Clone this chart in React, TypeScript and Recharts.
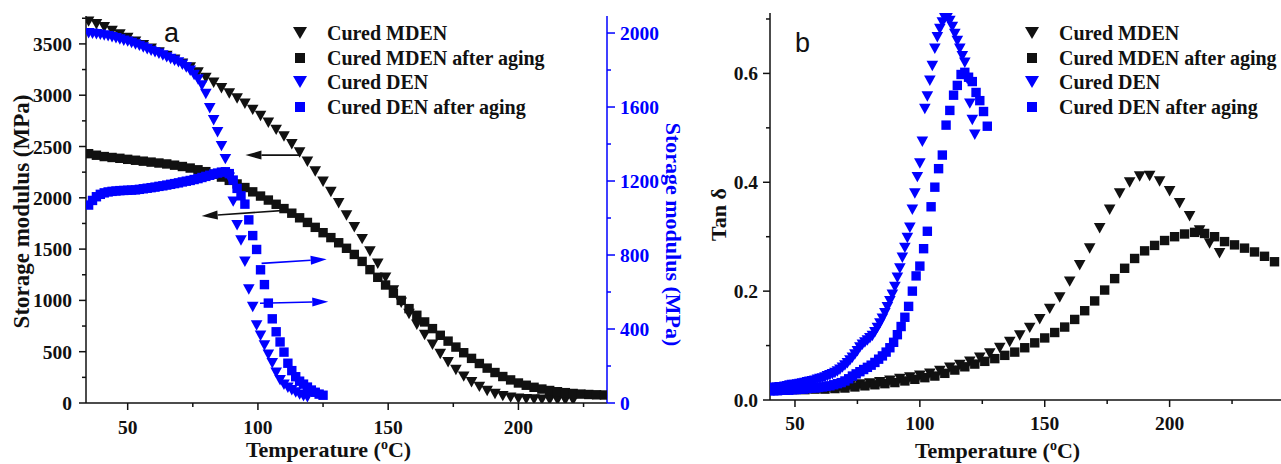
import { ScatterChart, Scatter, XAxis, YAxis, ReferenceLine, Label } from 'recharts';

const SERIF = '"Liberation Serif", "Times New Roman", serif';
const SANS = '"Liberation Sans", Arial, sans-serif';
const INK = '#111';
const BLUE = '#0000ff';

// (a) storage modulus, left axis (black) / right axis (blue)
const mdenTemp = [35, 38, 41, 44, 47, 50, 53, 56, 59, 62, 65, 68, 71, 74, 77, 80, 83, 86, 89, 92, 95, 98, 101, 104, 107, 110, 113, 116, 119, 122, 125, 128, 131, 134, 137, 140, 143, 146, 149, 152, 155, 158, 161, 164, 167, 170, 173, 176, 179, 182, 185, 188, 191, 194, 197, 200, 203, 206, 209, 212, 215, 218, 221];
const mdenModulus = [3720, 3695, 3665, 3630, 3595, 3560, 3525, 3490, 3455, 3420, 3385, 3348, 3310, 3273, 3225, 3170, 3125, 3070, 3020, 2970, 2920, 2860, 2800, 2735, 2665, 2600, 2525, 2445, 2355, 2260, 2160, 2060, 1950, 1830, 1715, 1600, 1480, 1360, 1225, 1100, 980, 870, 765, 665, 570, 480, 400, 325, 260, 205, 160, 120, 90, 70, 55, 45, 40, 37, 35, 33, 31, 30, 29];

const mdenAgedTemp = [35, 38, 41, 44, 47, 50, 53, 56, 59, 62, 65, 68, 71, 74, 77, 80, 83, 86, 89, 92, 95, 98, 101, 104, 107, 110, 113, 116, 119, 122, 125, 128, 131, 134, 137, 140, 143, 146, 149, 152, 155, 158, 161, 164, 167, 170, 173, 176, 179, 182, 185, 188, 191, 194, 197, 200, 203, 206, 209, 212, 215, 218, 221, 224, 227, 230, 233];
const mdenAgedModulus = [2430, 2415, 2402, 2393, 2385, 2375, 2366, 2357, 2348, 2339, 2330, 2318, 2305, 2290, 2273, 2255, 2230, 2202, 2170, 2135, 2100, 2058, 2017, 1978, 1937, 1895, 1850, 1805, 1760, 1712, 1660, 1612, 1562, 1508, 1448, 1380, 1300, 1225, 1150, 1070, 1000, 920, 855, 790, 725, 660, 603, 545, 490, 435, 385, 340, 297, 258, 225, 195, 173, 153, 136, 122, 110, 101, 93, 87, 83, 80, 78];

const denTemp = [35, 36.5, 38, 39.5, 41, 42.5, 44, 45.5, 47, 48.5, 50, 51.5, 53, 54.5, 56, 57.5, 59, 60.5, 62, 63.5, 65, 66.5, 68, 69.5, 71, 72.5, 74, 75.5, 77, 78.5, 80, 81.5, 83, 84.5, 86, 87.5, 89, 90.5, 92, 93.5, 95, 96.5, 98, 99.5, 101, 102.5, 104, 105.5, 107, 108.5, 110, 111.5, 113, 114.5, 116, 117.5, 119];
const denModulus = [2000, 1998, 1995, 1992, 1988, 1984, 1979, 1973, 1967, 1960, 1955, 1948, 1940, 1932, 1923, 1914, 1905, 1897, 1890, 1880, 1870, 1861, 1852, 1843, 1830, 1815, 1798, 1775, 1750, 1718, 1672, 1595, 1530, 1465, 1390, 1320, 1220, 1090, 962, 880, 765, 615, 520, 420, 365, 312, 262, 216, 165, 125, 100, 84, 70, 58, 47, 38, 32];

const denAgedTemp = [35, 36.5, 38, 39.5, 41, 42.5, 44, 45.5, 47, 48.5, 50, 51.5, 53, 54.5, 56, 57.5, 59, 60.5, 62, 63.5, 65, 66.5, 68, 69.5, 71, 72.5, 74, 75.5, 77, 78.5, 80, 81.5, 83, 84.5, 86, 87.5, 89, 90.5, 92, 93.5, 95, 96.5, 98, 99.5, 101, 102.5, 104, 105.5, 107, 108.5, 110, 111.5, 113, 114.5, 116, 117.5, 119, 120.5, 122, 123.5, 125];
const denAgedModulus = [1070, 1095, 1115, 1128, 1136, 1141, 1144, 1146, 1148, 1149, 1150, 1151, 1152, 1155, 1158, 1161, 1164, 1167, 1171, 1174, 1178, 1182, 1186, 1190, 1195, 1199, 1203, 1208, 1213, 1219, 1225, 1231, 1238, 1243, 1248, 1250, 1240, 1205, 1160, 1120, 1075, 990, 905, 830, 720, 640, 540, 455, 385, 330, 275, 215, 175, 142, 118, 102, 86, 70, 58, 48, 42];

// (b) tan delta
const mdenTanTemp = [40, 44, 48, 52, 56, 60, 64, 68, 72, 76, 80, 84, 88, 92, 96, 100, 104, 108, 112, 116, 120, 124, 128, 132, 136, 140, 144, 148, 152, 156, 160, 164, 168, 172, 176, 180, 184, 188, 192, 196, 200, 204, 208, 212, 216, 220];
const mdenTan = [0.020, 0.020, 0.021, 0.021, 0.022, 0.022, 0.024, 0.025, 0.027, 0.029, 0.031, 0.033, 0.036, 0.039, 0.042, 0.045, 0.049, 0.054, 0.060, 0.065, 0.071, 0.078, 0.086, 0.096, 0.107, 0.119, 0.133, 0.149, 0.168, 0.189, 0.218, 0.248, 0.279, 0.316, 0.350, 0.380, 0.400, 0.411, 0.412, 0.402, 0.384, 0.362, 0.338, 0.312, 0.288, 0.270];

const mdenAgedTanTemp = [42, 46, 50, 54, 58, 62, 66, 70, 74, 78, 82, 86, 90, 94, 98, 102, 106, 110, 114, 118, 122, 126, 130, 134, 138, 142, 146, 150, 154, 158, 162, 166, 170, 174, 178, 182, 186, 190, 194, 198, 202, 206, 210, 214, 218, 222, 226, 230, 234, 238, 242];
const mdenAgedTan = [0.018, 0.018, 0.019, 0.019, 0.020, 0.020, 0.021, 0.022, 0.024, 0.026, 0.028, 0.030, 0.032, 0.035, 0.038, 0.041, 0.044, 0.049, 0.055, 0.061, 0.066, 0.071, 0.076, 0.082, 0.088, 0.096, 0.105, 0.114, 0.124, 0.134, 0.148, 0.164, 0.182, 0.202, 0.223, 0.242, 0.260, 0.274, 0.284, 0.293, 0.300, 0.305, 0.308, 0.306, 0.300, 0.291, 0.285, 0.279, 0.272, 0.264, 0.254];

const denTanTemp = [40, 41, 42, 43, 44, 45, 46, 47, 48, 49, 50, 51, 52, 53, 54, 55, 56, 57, 58, 59, 60, 61, 62, 63, 64, 65, 66, 67, 68, 69, 70, 71, 72, 73, 74, 75, 76, 77, 78, 79, 80, 81, 82, 83, 84, 85, 86, 87, 88, 89, 90, 91, 92, 93, 94, 95, 96, 97, 98, 99, 100, 101, 102, 103, 104, 105, 106, 107, 108, 109, 110, 111, 112, 113, 114, 115, 116, 117, 118, 119, 120, 121, 122];
const denTan = [0.022, 0.022, 0.023, 0.023, 0.024, 0.024, 0.025, 0.026, 0.027, 0.028, 0.028, 0.029, 0.030, 0.031, 0.032, 0.033, 0.034, 0.035, 0.036, 0.038, 0.039, 0.040, 0.042, 0.044, 0.046, 0.048, 0.050, 0.053, 0.056, 0.060, 0.064, 0.068, 0.073, 0.078, 0.084, 0.090, 0.097, 0.102, 0.106, 0.110, 0.114, 0.118, 0.125, 0.133, 0.141, 0.150, 0.160, 0.171, 0.182, 0.194, 0.208, 0.225, 0.242, 0.262, 0.280, 0.298, 0.317, 0.350, 0.380, 0.410, 0.435, 0.475, 0.535, 0.558, 0.587, 0.614, 0.646, 0.667, 0.682, 0.694, 0.702, 0.703, 0.697, 0.686, 0.673, 0.660, 0.646, 0.632, 0.620, 0.590, 0.545, 0.515, 0.488];

const denAgedTanTemp = [40, 41.5, 43, 44.5, 46, 47.5, 49, 50.5, 52, 53.5, 55, 56.5, 58, 59.5, 61, 62.5, 64, 65.5, 67, 68.5, 70, 71.5, 73, 74.5, 76, 77.5, 79, 80.5, 82, 83.5, 85, 86.5, 88, 89.5, 91, 92.5, 94, 95.5, 97, 98.5, 100, 101.5, 103, 104.5, 106, 107.5, 109, 110.5, 112, 113.5, 115, 116.5, 118, 119.5, 121, 122.5, 124, 125.5, 127];
const denAgedTan = [0.017, 0.017, 0.017, 0.018, 0.018, 0.018, 0.019, 0.019, 0.020, 0.020, 0.021, 0.022, 0.022, 0.023, 0.024, 0.025, 0.026, 0.028, 0.030, 0.032, 0.035, 0.039, 0.044, 0.048, 0.052, 0.056, 0.060, 0.064, 0.069, 0.075, 0.081, 0.088, 0.096, 0.106, 0.120, 0.135, 0.152, 0.172, 0.200, 0.228, 0.246, 0.278, 0.310, 0.355, 0.391, 0.425, 0.450, 0.505, 0.532, 0.560, 0.578, 0.598, 0.602, 0.593, 0.585, 0.565, 0.550, 0.530, 0.503];

// ticks (majors labelled, minors short and blank)
const tempTicksA = [50, 75, 100, 125, 150, 175, 200, 225];
const modulusTicks = [0, 250, 500, 750, 1000, 1250, 1500, 1750, 2000, 2250, 2500, 2750, 3000, 3250, 3500, 3750];
const denModulusTicks = [0, 200, 400, 600, 800, 1000, 1200, 1400, 1600, 1800, 2000];
const tempTicksB = [50, 75, 100, 125, 150, 175, 200, 225];
const tanTicks = [0, 0.1, 0.2, 0.3, 0.4, 0.5, 0.6, 0.7];

const seriesNames = ['Cured MDEN', 'Cured MDEN after aging', 'Cured DEN', 'Cured DEN after aging'];

const zip = (xs: number[], ys: number[]) => xs.map((t, i) => ({ t, v: ys[i] }));

const triangle = (color: string, s = 5.8) => (p: any) => (
  <polygon
    points={`${p.cx - s},${p.cy - s * 0.85} ${p.cx + s},${p.cy - s * 0.85} ${p.cx},${p.cy + s * 0.95}`}
    fill={color}
  />
);
const square = (color: string, s = 4.7) => (p: any) => (
  <rect x={p.cx - s} y={p.cy - s} width={s * 2} height={s * 2} fill={color} />
);

const isStep = (step: number) => (v: number) => Math.abs(v / step - Math.round(v / step)) < 1e-6;

function TickText({ x, y, anchor, color, dy, children }: any) {
  return (
    <text x={x} y={y} dy={dy} textAnchor={anchor} fill={color} style={{ fontFamily: SERIF, fontWeight: 700, fontSize: '19.5px' }}>
      {children}
    </text>
  );
}

const leftTick = (isMajor: (v: number) => boolean, fmt: (v: number) => string, gap: number) => (props: any) => {
  const { x, y, payload } = props;
  const major = isMajor(payload.value);
  return (
    <g>
      <line x1={x - (major ? 7 : 4)} x2={x} y1={y} y2={y} stroke={INK} strokeWidth={1.5} />
      {major && (
        <TickText x={x - gap} y={y} dy="0.36em" anchor="end" color={INK}>
          {fmt(payload.value)}
        </TickText>
      )}
    </g>
  );
};

const rightTick = (isMajor: (v: number) => boolean, color: string) => (props: any) => {
  const { x, y, payload } = props;
  const major = isMajor(payload.value);
  return (
    <g>
      <line x1={x} x2={x + (major ? 8 : 4)} y1={y} y2={y} stroke={color} strokeWidth={1.5} />
      {major && (
        <TickText x={x + 13} y={y} dy="0.36em" anchor="start" color={color}>
          {payload.value}
        </TickText>
      )}
    </g>
  );
};

const bottomTick = (isMajor: (v: number) => boolean, baseline: number) => (props: any) => {
  const { x, y, payload } = props;
  const major = isMajor(payload.value);
  return (
    <g>
      <line x1={x} x2={x} y1={y} y2={y + (major ? 7 : 4)} stroke={INK} strokeWidth={1.5} />
      {major && (
        <TickText x={x} y={y + baseline} anchor="middle" color={INK}>
          {payload.value}
        </TickText>
      )}
    </g>
  );
};

const xTitle = (dx: number, dy: number) => (props: any) => {
  const { x, y, width } = props.viewBox;
  return (
    <text x={x + width / 2 + dx} y={y + dy} textAnchor="middle" fill={INK} style={{ fontFamily: SERIF, fontWeight: 700, fontSize: '22px' }}>
      Temperature (<tspan dy={-8} style={{ fontSize: '14px' }}>o</tspan>
      <tspan dy={8}>C)</tspan>
    </text>
  );
};

const yTitle = (text: string, cx: number, dyc: number, angle: number, color: string, size = 22) => (props: any) => {
  const { x, y, height } = props.viewBox;
  const tx = x + cx;
  const ty = y + height / 2 + dyc;
  return (
    <text
      x={tx}
      y={ty}
      transform={`rotate(${angle} ${tx} ${ty})`}
      textAnchor="middle"
      dominantBaseline="central"
      fill={color}
      style={{ fontFamily: SERIF, fontWeight: 700, fontSize: `${size}px` }}
    >
      {text}
    </text>
  );
};

const arrowShape = (color: string) => (props: any) => {
  const { x1, y1, x2, y2 } = props;
  const ang = Math.atan2(y2 - y1, x2 - x1);
  const L = 16;
  const W = 4.5;
  const bx = x2 - L * Math.cos(ang);
  const by = y2 - L * Math.sin(ang);
  const px = -Math.sin(ang) * W;
  const py = Math.cos(ang) * W;
  return (
    <g>
      <line x1={x1} y1={y1} x2={bx} y2={by} stroke={color} strokeWidth={1.6} />
      <polygon points={`${x2},${y2} ${bx + px},${by + py} ${bx - px},${by - py}`} fill={color} />
    </g>
  );
};

function LegendBox({ left, top }: { left: number; top: number }) {
  const marks = [
    <polygon key="a" points="1,2 15,2 8,14" fill={INK} />,
    <rect key="b" x={3} y={3} width={10} height={10} fill={INK} />,
    <polygon key="c" points="1,2 15,2 8,14" fill={BLUE} />,
    <rect key="d" x={3} y={3} width={10} height={10} fill={BLUE} />,
  ];
  return (
    <div style={{ position: 'absolute', left, top, fontFamily: SERIF, fontWeight: 'bold', fontSize: 20, color: INK }}>
      {seriesNames.map((name, i) => (
        <div key={name} style={{ height: 24.5, display: 'flex', alignItems: 'center' }}>
          <svg width={16} height={16}>{marks[i]}</svg>
          <span style={{ marginLeft: 19, whiteSpace: 'nowrap', lineHeight: '24px' }}>{name}</span>
        </div>
      ))}
    </div>
  );
}

const axisLine = { stroke: INK, strokeWidth: 1.5 };
const blueLine = { stroke: BLUE, strokeWidth: 1.5 };

export default function App() {
  return (
    <div style={{ position: 'absolute', left: 0, top: 0, width: 1281, height: 464, overflow: 'hidden', background: '#fff' }}>
      {/* (a) */}
      <div style={{ position: 'absolute', left: 0, top: 0 }}>
        <ScatterChart width={700} height={464} margin={{ top: 16, right: 0, bottom: 0, left: 0 }}>
          <XAxis
            dataKey="t"
            type="number"
            domain={[34, 234]}
            allowDataOverflow
            ticks={tempTicksA}
            interval={0}
            height={61}
            tickSize={0}
            tickMargin={0}
            tickLine={false}
            axisLine={axisLine}
            tick={bottomTick(isStep(50), 31)}
            label={<Label content={xTitle(-18, 54)} />}
          />
          <XAxis xAxisId="top" orientation="top" type="number" domain={[34, 234]} allowDataOverflow height={0} tick={false} tickLine={false} axisLine={axisLine} />
          <YAxis
            yAxisId="left"
            dataKey="v"
            type="number"
            domain={[0, 3772]}
            allowDataOverflow
            ticks={modulusTicks}
            interval={0}
            width={86}
            tickSize={0}
            tickMargin={0}
            tickLine={false}
            axisLine={axisLine}
            tick={leftTick(isStep(500), (v) => String(v), 14)}
            label={<Label content={yTitle('Storage modulus (MPa)', 21, 2, -90, INK, 23)} />}
          />
          <YAxis
            yAxisId="right"
            orientation="right"
            dataKey="v"
            type="number"
            domain={[0, 2092]}
            allowDataOverflow
            ticks={denModulusTicks}
            interval={0}
            width={93}
            tickSize={0}
            tickMargin={0}
            tickLine={false}
            axisLine={blueLine}
            tick={rightTick(isStep(400), BLUE)}
            label={<Label content={yTitle('Storage modulus (MPa)', 66, 25, 90, BLUE)} />}
          />
          <Scatter name={seriesNames[0]} yAxisId="left" data={zip(mdenTemp, mdenModulus)} shape={triangle(INK)} isAnimationActive={false} />
          <Scatter name={seriesNames[1]} yAxisId="left" data={zip(mdenAgedTemp, mdenAgedModulus)} shape={square(INK)} isAnimationActive={false} />
          <Scatter name={seriesNames[2]} yAxisId="right" data={zip(denTemp, denModulus)} shape={triangle(BLUE)} isAnimationActive={false} />
          <Scatter name={seriesNames[3]} yAxisId="right" data={zip(denAgedTemp, denAgedModulus)} shape={square(BLUE)} isAnimationActive={false} />
          <ReferenceLine yAxisId="left" segment={[{ x: 116.3, y: 2416 }, { x: 95.2, y: 2416 }]} shape={arrowShape(INK)} />
          <ReferenceLine yAxisId="left" segment={[{ x: 111.7, y: 1880 }, { x: 78.4, y: 1822 }]} shape={arrowShape(INK)} />
          <ReferenceLine yAxisId="right" segment={[{ x: 101.4, y: 755 }, { x: 126.4, y: 777 }]} shape={arrowShape(BLUE)} />
          <ReferenceLine yAxisId="right" segment={[{ x: 100.8, y: 539 }, { x: 127.0, y: 548 }]} shape={arrowShape(BLUE)} />
        </ScatterChart>
        <LegendBox left={292} top={20.75} />
      </div>

      {/* (b) */}
      <div style={{ position: 'absolute', left: 700, top: 0 }}>
        <ScatterChart width={582} height={464} margin={{ top: 13, right: 0, bottom: 0, left: 0 }}>
          <XAxis
            dataKey="t"
            type="number"
            domain={[40, 245]}
            allowDataOverflow
            ticks={tempTicksB}
            interval={0}
            height={64}
            tickSize={0}
            tickMargin={0}
            tickLine={false}
            axisLine={axisLine}
            tick={bottomTick(isStep(50), 30)}
            label={<Label content={xTitle(-28.5, 58)} />}
          />
          <XAxis xAxisId="top" orientation="top" type="number" domain={[40, 245]} allowDataOverflow height={0} tick={false} tickLine={false} axisLine={axisLine} />
          <YAxis
            dataKey="v"
            type="number"
            domain={[0, 0.711]}
            allowDataOverflow
            ticks={tanTicks}
            interval={0}
            width={70}
            tickSize={0}
            tickMargin={0}
            tickLine={false}
            axisLine={axisLine}
            tick={leftTick(isStep(0.2), (v) => v.toFixed(1), 12)}
            label={<Label content={yTitle('Tan δ', 18, 8, -90, INK)} />}
          />
          <Scatter name={seriesNames[0]} data={zip(mdenTanTemp, mdenTan)} shape={triangle(INK)} isAnimationActive={false} />
          <Scatter name={seriesNames[1]} data={zip(mdenAgedTanTemp, mdenAgedTan)} shape={square(INK)} isAnimationActive={false} />
          <Scatter name={seriesNames[2]} data={zip(denTanTemp, denTan)} shape={triangle(BLUE)} isAnimationActive={false} />
          <Scatter name={seriesNames[3]} data={zip(denAgedTanTemp, denAgedTan)} shape={square(BLUE)} isAnimationActive={false} />
        </ScatterChart>
        <LegendBox left={324} top={20.75} />
      </div>

      {/* panel letters */}
      <svg width={1281} height={464} style={{ position: 'absolute', left: 0, top: 0, pointerEvents: 'none' }}>
        <text x={164} y={42} fontFamily={SANS} fontSize={27} fill={INK}>a</text>
        <text x={795} y={52} fontFamily={SANS} fontSize={27} fill={INK}>b</text>
      </svg>
    </div>
  );
}
